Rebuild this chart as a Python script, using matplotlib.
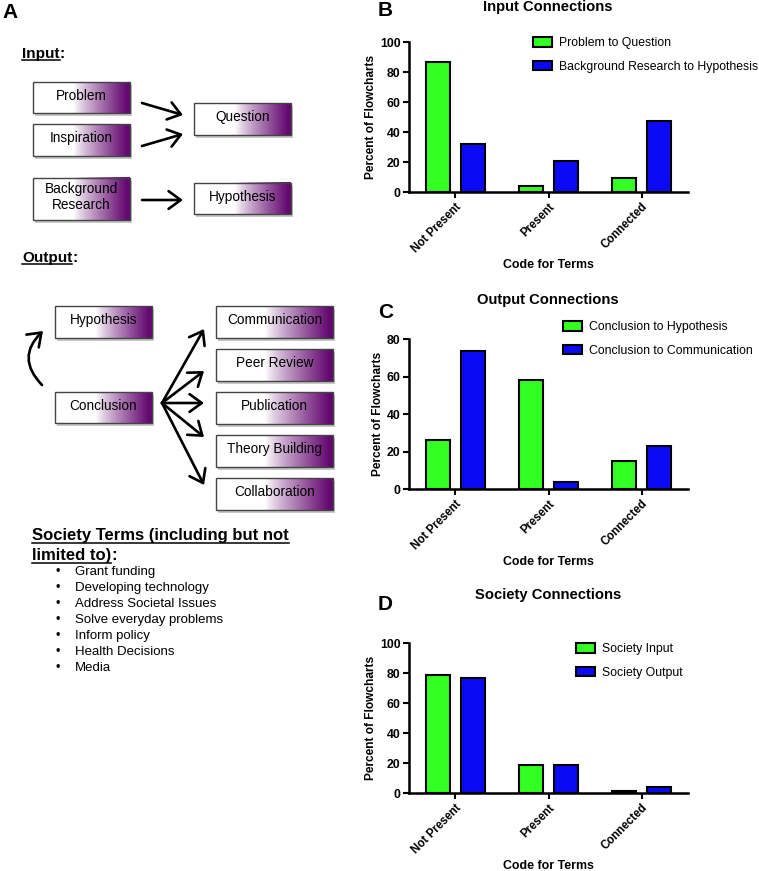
import numpy as np
import matplotlib.pyplot as plt
from matplotlib.patches import Rectangle, FancyArrowPatch

plt.rcParams['font.family'] = ['Liberation Sans', 'DejaVu Sans']

W, H = 759, 871

# bar chart data (percent of flowcharts)
codes = ['Not Present', 'Present', 'Connected']
input_problem_question = [87.1, 4.0, 9.4]
input_background_hypothesis = [32.3, 20.9, 47.4]
output_conclusion_hypothesis = [26.4, 58.5, 15.3]
output_conclusion_communication = [73.6, 4.1, 23.1]
society_input = [78.9, 18.9, 1.8]
society_output = [77.1, 18.9, 4.0]

society_terms = ['Grant funding', 'Developing technology', 'Address Societal Issues',
                 'Solve everyday problems', 'Inform policy', 'Health Decisions', 'Media']

GREEN = '#33ff22'
BLUE = '#0a0af5'
PURPLE = np.array([100, 8, 112]) / 255.0

fig = plt.figure(figsize=(W / 100, H / 100), dpi=100)

# overlay in pixel coordinates for panel A
ov = fig.add_axes([0, 0, 1, 1])
ov.set_xlim(0, W)
ov.set_ylim(H, 0)
ov.axis('off')
ov.patch.set_visible(False)


def grad_box(x0, y0, x1, y1, label):
    ov.add_patch(Rectangle((x0 + 2, y0 + 3), x1 - x0, y1 - y0, facecolor='#000000',
                           alpha=0.22, edgecolor='none', zorder=1))
    t = np.linspace(0, 1, 200)
    f = np.clip((t - 0.42) / 0.55, 0, 1) ** 0.85
    img = (1 - f)[:, None] * np.ones(3) + f[:, None] * PURPLE
    ov.imshow(img[None, :, :], extent=(x0, x1, y1, y0), aspect='auto',
              interpolation='bilinear', zorder=2)
    ov.add_patch(Rectangle((x0, y0), x1 - x0, y1 - y0, facecolor='none',
                           edgecolor='#444444', lw=1.0, zorder=3))
    ov.text((x0 + x1) / 2, (y0 + y1) / 2 - 2, label, ha='center', va='center',
            fontsize=9.8, zorder=4, linespacing=1.1)


def arrow(p0, p1, rad=0.0):
    ov.add_patch(FancyArrowPatch(p0, p1, arrowstyle='->,head_length=5.5,head_width=4',
                                 connectionstyle='arc3,rad=%s' % rad,
                                 lw=1.9, color='black', mutation_scale=1.6, zorder=5,
                                 shrinkA=0, shrinkB=0))


def underlined(x, y, text, tail, size):
    t = ov.text(x, y, text, fontsize=size, fontweight='bold', va='baseline')
    fig.canvas.draw()
    bb = t.get_window_extent().transformed(ov.transData.inverted())
    ov.plot([bb.x0, bb.x1], [y + 2.5, y + 2.5], color='black', lw=1.1)
    if tail:
        ov.text(bb.x1, y, tail, fontsize=size, fontweight='bold', va='baseline')


ov.text(2, 12, 'A', fontsize=15, fontweight='bold', va='center')
underlined(22, 58, 'Input', ':', 11)
grad_box(33, 82, 130, 113, 'Problem')
grad_box(33, 124, 130, 156, 'Inspiration')
grad_box(194, 103, 291, 135, 'Question')
grad_box(33, 178, 130, 220, 'Background\nResearch')
grad_box(194, 183, 291, 214, 'Hypothesis')
arrow((142, 103), (183, 115))
arrow((142, 146), (183, 134))
arrow((142, 200), (183, 200))

underlined(22, 262, 'Output', ':', 11)
grad_box(55, 306, 152, 338, 'Hypothesis')
grad_box(55, 392, 152, 423, 'Conclusion')
out_boxes = ['Communication', 'Peer Review', 'Publication', 'Theory Building', 'Collaboration']
out_tops = [306, 349, 392, 435, 478]
out_tips = [329, 371, 403, 437, 485]
for name, top, tip in zip(out_boxes, out_tops, out_tips):
    grad_box(216, top, 333, top + 32, name)
    arrow((162, 403), (204, tip))
arrow((42, 385), (43, 331), rad=-0.5)

underlined(32, 540, 'Society Terms (including but not', '', 12)
underlined(32, 560, 'limited to)', ':', 12)
for i, term in enumerate(society_terms):
    yy = 572 + 16 * i
    ov.text(55, yy, '\u2022', fontsize=9, va='center')
    ov.text(75, yy, term, fontsize=9.5, va='center')


def bar_panel(bottom_px, ymax, v1, v2, lab1, lab2, title, letter, title_y, letter_y,
              leg_x, leg_y):
    ax = fig.add_axes([409 / W, 1 - bottom_px / H, 279 / W, 150 / H])
    x = np.arange(len(codes))
    ax.bar(x - 0.185, v1, 0.26, color=GREEN, edgecolor='black', lw=1.5, label=lab1)
    ax.bar(x + 0.185, v2, 0.26, color=BLUE, edgecolor='black', lw=1.5, label=lab2)
    ax.set_xlim(-0.5, 2.5)
    ax.set_ylim(0, ymax)
    ax.set_yticks(np.arange(0, ymax + 1, 20))
    ax.set_xticks(x)
    ax.set_xticklabels(codes, rotation=45, ha='right', rotation_mode='anchor',
                       fontweight='bold', fontsize=8.3)
    for lbl in ax.get_yticklabels():
        lbl.set_fontweight('bold')
        lbl.set_fontsize(8.8)
    for s in ['top', 'right']:
        ax.spines[s].set_visible(False)
    for s in ['left', 'bottom']:
        ax.spines[s].set_linewidth(1.8)
    ax.tick_params(direction='out', length=4, width=1.5, pad=2)
    ax.set_ylabel('Percent of Flowcharts', fontweight='bold', fontsize=8.6, labelpad=2)
    ax.set_xlabel('Code for Terms', fontweight='bold', fontsize=8.9, labelpad=3)
    ax.legend(loc='center left', bbox_to_anchor=(leg_x / W, 1 - leg_y / H),
              bbox_transform=fig.transFigure, frameon=False, fontsize=8.8,
              handlelength=1.55, handleheight=0.8, handletextpad=0.55,
              labelspacing=0.95, borderpad=0, borderaxespad=0)
    fig.text(548 / W, 1 - title_y / H, title, ha='center', va='center',
             fontsize=10.6, fontweight='bold')
    fig.text(378 / W, 1 - letter_y / H, letter, ha='left', va='center',
             fontsize=15, fontweight='bold')
    return ax


bar_panel(192.3, 100, input_problem_question, input_background_hypothesis,
          'Problem to Question', 'Background Research to Hypothesis',
          'Input Connections', 'B', 7, 11, 533, 55)
bar_panel(489.3, 80, output_conclusion_hypothesis, output_conclusion_communication,
          'Conclusion to Hypothesis', 'Conclusion to Communication',
          'Output Connections', 'C', 300, 312, 563, 339)
bar_panel(793.3, 100, society_input, society_output,
          'Society Input', 'Society Output',
          'Society Connections', 'D', 595, 604, 576, 661)

fig.savefig('out.png', dpi=100)
